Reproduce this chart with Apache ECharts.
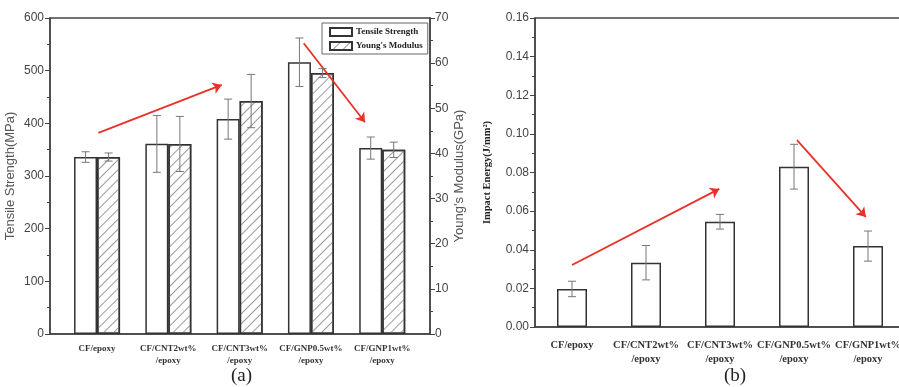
<!DOCTYPE html>
<html><head><meta charset="utf-8">
<script src="https://cdn.jsdelivr.net/npm/echarts@6/dist/echarts.min.js"></script>
<style>html,body{margin:0;padding:0;background:#fff}#c{width:899px;height:387px}</style>
</head><body><div id="c"></div>
<script>
const categories = ['CF/epoxy','CF/CNT2wt%\n/epoxy','CF/CNT3wt%\n/epoxy','CF/GNP0.5wt%\n/epoxy','CF/GNP1wt%\n/epoxy'];
const tensile = [336, 361, 408, 516, 353];
const tensileErr = [10, 54, 38, 46, 21];
const modulus = [39.2, 42.1, 51.6, 57.8, 40.8];
const modulusErr = [0.9, 6.1, 5.9, 1.0, 1.7];
const impact = [0.0197, 0.0333, 0.0545, 0.083, 0.0419];
const impactErr = [0.004, 0.0089, 0.0038, 0.0116, 0.0078];
const arrowsA = [[[1.18, 382], [2.91, 473]], [[4.06, 552], [4.92, 402]]];
const arrowsB = [[[1.0, 0.0321], [2.99, 0.0715]], [[4.04, 0.0968], [4.97, 0.057]]];

const pos = categories.map((c, i) => i + 1);
const axisCol = '#444';
const labelFont = {fontFamily: 'Liberation Sans', fontSize: 12, color: '#444'};
const catLabelA = {fontFamily: 'Liberation Serif', fontWeight: 'bold', fontSize: 9, color: '#333', lineHeight: 12};
const catLabelB = {fontFamily: 'Liberation Serif', fontWeight: 'bold', fontSize: 10.5, color: '#333', lineHeight: 14};

function errSeries(vals, errs, xi, yi, off) {
  return {
    type: 'custom', xAxisIndex: xi, yAxisIndex: yi, z: 5,
    data: vals.map((v, i) => [pos[i], v, errs[i]]),
    encode: {x: 0, y: 1},
    renderItem: function (params, api) {
      const x = api.value(0), v = api.value(1), e = api.value(2);
      const hi = api.coord([x, v + e]), lo = api.coord([x, v - e]);
      const cx = hi[0] + off, w = 4;
      const st = {stroke: '#777', lineWidth: 1};
      return {type: 'group', children: [
        {type: 'line', shape: {x1: cx, y1: hi[1], x2: cx, y2: lo[1]}, style: st},
        {type: 'line', shape: {x1: cx - w, y1: hi[1], x2: cx + w, y2: hi[1]}, style: st},
        {type: 'line', shape: {x1: cx - w, y1: lo[1], x2: cx + w, y2: lo[1]}, style: st}
      ]};
    }
  };
}
function arrowLine(arr) {
  return {
    silent: true, symbol: ['none', 'arrow'], symbolSize: 9,
    lineStyle: {color: '#e8312a', width: 1.8, type: 'solid'},
    label: {show: false}, emphasis: {disabled: true},
    data: arr.map(a => [{coord: a[0]}, {coord: a[1]}])
  };
}
const hatch = {symbol: 'rect', symbolSize: 1, dashArrayX: [1, 0], dashArrayY: [1, 6], rotation: -Math.PI / 4, color: '#9a9a9a'};

const chart = echarts.init(document.getElementById('c'));
chart.setOption({
  animation: false,
  backgroundColor: '#fff',
  title: [
    {text: '(a)', left: 226, top: 362, textStyle: {fontFamily: 'Liberation Serif', fontSize: 19, fontWeight: 'normal', color: '#222'}},
    {text: '(b)', left: 719, top: 362, textStyle: {fontFamily: 'Liberation Serif', fontSize: 19, fontWeight: 'normal', color: '#222'}}
  ],
  legend: {
    left: 322, top: 23, orient: 'vertical', itemWidth: 22, itemHeight: 8, itemGap: 4, icon: 'rect',
    padding: [4, 5, 3, 7], borderColor: '#666', borderWidth: 1,
    textStyle: {fontFamily: 'Liberation Serif', fontWeight: 'bold', fontSize: 9, color: '#222', padding: [0, 0, 0, -1]},
    data: ['Tensile Strength', "Young's Modulus"]
  },
  grid: [
    {left: 50, top: 18, width: 380, height: 316, show: true, borderColor: axisCol, borderWidth: 1.5, backgroundColor: 'transparent', outerBoundsMode: 'none'},
    {left: 535, top: 18, width: 370, height: 309, show: true, borderColor: axisCol, borderWidth: 1.5, backgroundColor: 'transparent', outerBoundsMode: 'none'}
  ],
  xAxis: [
    {type: 'value', gridIndex: 0, min: 0.34, max: 5.67, splitLine: {show: false},
     axisLine: {show: true, lineStyle: {color: axisCol, width: 1.5}}, axisTick: {show: false},
     axisLabel: Object.assign({customValues: pos, formatter: v => categories[Math.round(v) - 1] || '', margin: 9}, catLabelA)},
    {type: 'value', gridIndex: 1, min: 0.5, max: 5.5, splitLine: {show: false},
     axisLine: {show: true, lineStyle: {color: axisCol, width: 1.5}}, axisTick: {show: false},
     axisLabel: Object.assign({customValues: pos, formatter: v => categories[Math.round(v) - 1] || '', margin: 11}, catLabelB)}
  ],
  yAxis: [
    {type: 'value', gridIndex: 0, min: 0, max: 600, interval: 100, position: 'left',
     name: 'Tensile Strength(MPa)', nameLocation: 'middle', nameGap: 33, nameRotate: 90,
     nameTextStyle: {fontFamily: 'Liberation Sans', fontSize: 13, color: '#555'},
     axisLine: {show: true, lineStyle: {color: axisCol, width: 1.5}},
     axisTick: {show: true, length: 5, lineStyle: {color: axisCol}},
     minorTick: {show: true, splitNumber: 2, length: 3, lineStyle: {color: axisCol}},
     splitLine: {show: false}, axisLabel: Object.assign({margin: 6}, labelFont)},
    {type: 'value', gridIndex: 0, min: 0, max: 70, interval: 10, position: 'right',
     name: "Young's Modulus(GPa)", nameLocation: 'middle', nameGap: 23, nameRotate: 90,
     nameTextStyle: {fontFamily: 'Liberation Sans', fontSize: 13, color: '#555'},
     axisLine: {show: true, lineStyle: {color: axisCol, width: 1.5}},
     axisTick: {show: true, length: 5, lineStyle: {color: axisCol}},
     minorTick: {show: true, splitNumber: 2, length: 3, lineStyle: {color: axisCol}},
     splitLine: {show: false}, axisLabel: Object.assign({margin: 5}, labelFont)},
    {type: 'value', gridIndex: 1, min: 0, max: 0.16, interval: 0.02, position: 'left',
     name: 'Impact Energy(J/mm²)', nameLocation: 'middle', nameGap: 42, nameRotate: 90,
     nameTextStyle: {fontFamily: 'Liberation Serif', fontWeight: 'bold', fontSize: 10.5, color: '#222'},
     axisLine: {show: true, lineStyle: {color: axisCol, width: 1.5}},
     axisTick: {show: true, length: 5, lineStyle: {color: axisCol}},
     minorTick: {show: true, splitNumber: 2, length: 3, lineStyle: {color: axisCol}},
     splitLine: {show: false}, axisLabel: Object.assign({margin: 6, formatter: v => v.toFixed(2)}, labelFont)}
  ],
  series: [
    {name: 'Tensile Strength', type: 'bar', xAxisIndex: 0, yAxisIndex: 0, barWidth: 23, barGap: '0%',
     data: tensile.map((v, i) => [pos[i], v]),
     itemStyle: {color: '#fff', borderColor: '#333', borderWidth: 1.5},
     markLine: arrowLine(arrowsA)},
    {name: "Young's Modulus", type: 'bar', xAxisIndex: 0, yAxisIndex: 1, barWidth: 23, barGap: '0%',
     data: modulus.map((v, i) => [pos[i], v]),
     itemStyle: {color: '#fff', borderColor: '#333', borderWidth: 1.5, decal: hatch}},
    errSeries(tensile, tensileErr, 0, 0, -11.5),
    errSeries(modulus, modulusErr, 0, 1, 11.5),
    {name: 'Impact Energy', type: 'bar', xAxisIndex: 1, yAxisIndex: 2, barWidth: 30,
     data: impact.map((v, i) => [pos[i], v]),
     itemStyle: {color: '#fff', borderColor: '#333', borderWidth: 1.5},
     markLine: arrowLine(arrowsB)},
    errSeries(impact, impactErr, 1, 2, 0)
  ]
});
</script></body></html>
